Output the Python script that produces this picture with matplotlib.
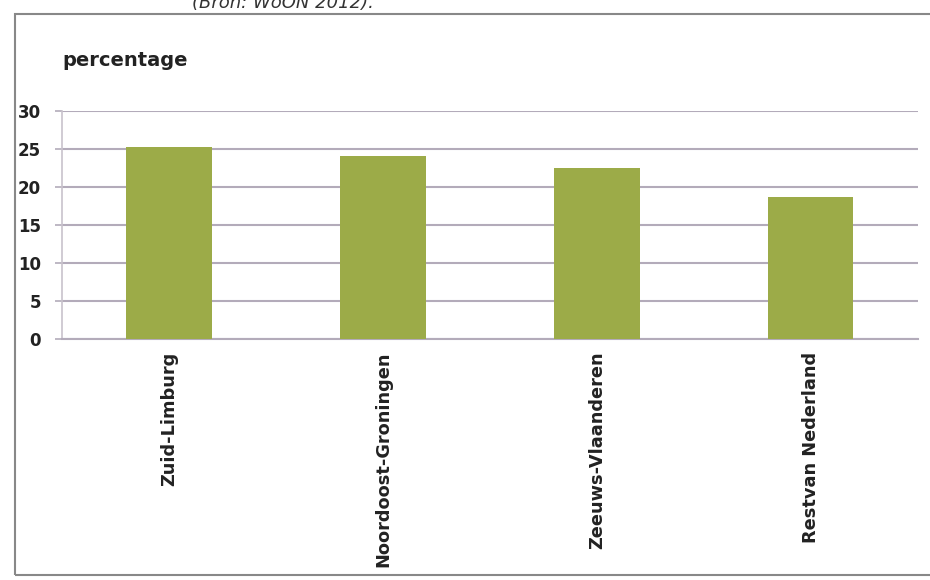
import matplotlib.pyplot as plt
from matplotlib.patches import Rectangle

# data
regions = ["Zuid-Limburg", "Noordoost-Groningen", "Zeeuws-Vlaanderen", "Restvan Nederland"]
percentages = [25.3, 24.1, 22.5, 18.7]
yticks = [0, 5, 10, 15, 20, 25, 30]

bar_color = "#9cab48"
grid_color = "#b3abba"

plt.rcParams["font.family"] = ["DejaVu Sans"]

fig = plt.figure(figsize=(9.3, 5.8), dpi=100)
ax = fig.add_axes([0.0667, 0.4155, 0.92, 0.393])

x = list(range(len(regions)))
ax.bar(x, percentages, width=0.4, color=bar_color, zorder=3)

ax.set_xlim(-0.5, len(regions) - 0.5)
ax.set_ylim(0, 30)
ax.set_yticks(yticks)
ax.set_yticklabels([str(t) for t in yticks], fontsize=12, fontweight="bold", color="#222222")
ax.set_xticks(x)
ax.set_xticklabels(regions, rotation=90, fontsize=12.8, fontweight="bold", color="#222222",
                   va="top", ha="center")
ax.tick_params(axis="x", length=0, pad=9)
ax.tick_params(axis="y", length=5, width=1.2, color=grid_color, pad=10)

ax.grid(axis="y", color=grid_color, linewidth=1.5, zorder=0)
for side in ["top", "right"]:
    ax.spines[side].set_visible(False)
ax.spines["left"].set_color("#c8c2cc")
ax.spines["left"].set_linewidth(1.2)
ax.spines["bottom"].set_color(grid_color)
ax.spines["bottom"].set_linewidth(1.5)

fig.text(62 / 930, 1 - 60 / 580, "percentage", fontsize=14, fontweight="bold",
         color="#222222", va="center", ha="left")

# scanned page frame and caption
fig.patches.append(Rectangle((15 / 930, 5 / 580), 1.2, 1 - 19 / 580, transform=fig.transFigure,
                             fill=False, edgecolor="#888888", linewidth=1.5))
fig.text(283 / 930, 1 - 3 / 580, "(Bron: WoON 2012).", fontsize=13, style="italic",
         color="#333333", ha="center", va="center")

fig.savefig("out.png", dpi=100, facecolor="white")
